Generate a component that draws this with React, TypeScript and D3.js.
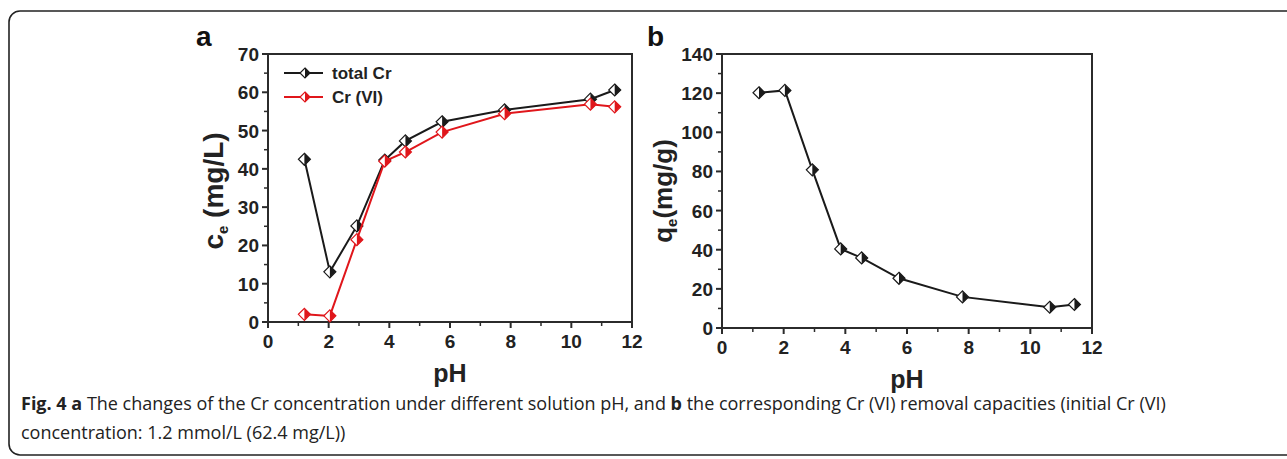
import * as d3 from 'd3'

const PH = [1.2, 2.04, 2.93, 3.85, 4.53, 5.74, 7.8, 10.63, 11.43]
const TOTAL_CR = [42.5, 13.1, 25.1, 42.3, 47.3, 52.3, 55.4, 58.2, 60.6]
const CR_VI = [2.0, 1.6, 21.5, 42.0, 44.4, 49.6, 54.4, 56.9, 56.2]
const QE = [120.2, 121.4, 80.8, 40.4, 35.8, 25.4, 15.9, 10.6, 12.0]

const X_TICKS = [0, 2, 4, 6, 8, 10, 12]
const A_Y_TICKS = [0, 10, 20, 30, 40, 50, 60, 70]
const B_Y_TICKS = [0, 20, 40, 60, 80, 100, 120, 140]

const AXIS = '#2b2b2b'
const RED = '#e0161b'
const FONT = '"Liberation Sans", Arial, sans-serif'

type Pt = { x: number; y: number }

function Marker({ cx, cy, color, r = 6 }: { cx: number; cy: number; color: string; r?: number }) {
  // half-filled diamond: left half white, right half filled
  return (
    <g>
      <path
        d={`M${cx},${cy - r} L${cx + r},${cy} L${cx},${cy + r} L${cx - r},${cy} Z`}
        fill="#fff"
        stroke={color}
        strokeWidth={1.2}
      />
      <path d={`M${cx},${cy - r} L${cx + r},${cy} L${cx},${cy + r} Z`} fill={color} />
    </g>
  )
}

function Panel({
  left,
  right,
  top,
  bottom,
  yMax,
  yTicks,
  minorY,
  series,
  letter,
  letterX,
  yLabel,
  yLabelX,
  yLabelSize,
  legend,
}: {
  left: number
  right: number
  top: number
  bottom: number
  yMax: number
  yTicks: number[]
  minorY: number
  series: { values: number[]; color: string }[]
  letter: string
  letterX: number
  yLabel: [string, string]
  yLabelX: number
  yLabelSize: number
  legend?: { label: string; color: string }[]
}) {
  const x = d3.scaleLinear().domain([0, 12]).range([left, right])
  const y = d3.scaleLinear().domain([0, yMax]).range([bottom, top])
  const line = d3
    .line<Pt>()
    .x(d => x(d.x))
    .y(d => y(d.y))
  const minorX = d3.range(1, 12, 2)
  const minorYs = d3.range(minorY, yMax, minorY * 2)
  const yMid = 191

  return (
    <g fontFamily={FONT}>
      <text x={letterX} y={46} fontSize={28} fontWeight="bold" fill="#111">
        {letter}
      </text>
      <rect x={left} y={top} width={right - left} height={bottom - top} fill="none" stroke={AXIS} strokeWidth={2} />
      {X_TICKS.map(t => (
        <g key={`xt-${t}`}>
          <line x1={x(t)} x2={x(t)} y1={bottom} y2={bottom + 6} stroke={AXIS} strokeWidth={2} />
          <text x={x(t)} y={bottom + 26} textAnchor="middle" fontSize={19} fontWeight="bold" fill="#222">
            {t}
          </text>
        </g>
      ))}
      {minorX.map(t => (
        <line key={`xm-${t}`} x1={x(t)} x2={x(t)} y1={bottom} y2={bottom + 4} stroke={AXIS} strokeWidth={1.5} />
      ))}
      {yTicks.map(t => (
        <g key={`yt-${t}`}>
          <line x1={left - 6} x2={left} y1={y(t)} y2={y(t)} stroke={AXIS} strokeWidth={2} />
          <text x={left - 9} y={y(t) + 7} textAnchor="end" fontSize={19} fontWeight="bold" fill="#222">
            {t}
          </text>
        </g>
      ))}
      {minorYs.map(t => (
        <line key={`ym-${t}`} x1={left - 4} x2={left} y1={y(t)} y2={y(t)} stroke={AXIS} strokeWidth={1.5} />
      ))}
      <text x={(left + right) / 2} y={bottom + 60} textAnchor="middle" fontSize={25} fontWeight="bold" fill="#222">
        pH
      </text>
      <text
        transform={`translate(${yLabelX},${yMid}) rotate(-90)`}
        textAnchor="middle"
        fontSize={yLabelSize}
        fontWeight="bold"
        fill="#222"
      >
        {yLabel[0]}
        <tspan fontSize={15} dy={5}>
          e
        </tspan>
        <tspan dy={-5}>{yLabel[1]}</tspan>
      </text>
      {series.map((s, i) => {
        const pts = PH.map((p, j) => ({ x: p, y: s.values[j] }))
        return (
          <g key={`s-${i}`}>
            <path d={line(pts) ?? ''} fill="none" stroke={s.color} strokeWidth={2} />
            {pts.map((p, j) => (
              <Marker key={j} cx={x(p.x)} cy={y(p.y)} color={s.color} />
            ))}
          </g>
        )
      })}
      {legend?.map((l, i) => {
        const ly = top + 19 + i * 24
        return (
          <g key={`lg-${i}`}>
            <line x1={left + 16} x2={left + 55} y1={ly} y2={ly} stroke={l.color} strokeWidth={2} />
            <Marker cx={left + 37} cy={ly} color={l.color} r={5} />
            <text x={left + 64} y={ly + 6} fontSize={17} fontWeight="bold" fill="#222">
              {l.label}
            </text>
          </g>
        )
      })}
    </g>
  )
}

export default function App() {
  return (
    <svg
      width={1287}
      height={459}
      viewBox="0 0 1287 459"
      style={{ position: 'absolute', left: 0, top: 0, background: '#fff' }}
    >
      <rect x={9} y={11} width={1300} height={444} rx={11} fill="#fff" stroke="#222" strokeWidth={1.6} />
      <Panel
        left={268}
        right={632}
        top={54}
        bottom={322}
        yMax={70}
        yTicks={A_Y_TICKS}
        minorY={5}
        letter="a"
        letterX={196}
        yLabel={['c', ' (mg/L)']}
        yLabelX={223}
        yLabelSize={28}
        series={[
          { values: TOTAL_CR, color: '#1a1a1a' },
          { values: CR_VI, color: RED },
        ]}
        legend={[
          { label: 'total Cr', color: '#1a1a1a' },
          { label: 'Cr (VI)', color: RED },
        ]}
      />
      <Panel
        left={722}
        right={1092}
        top={54}
        bottom={328}
        yMax={140}
        yTicks={B_Y_TICKS}
        minorY={10}
        letter="b"
        letterX={647}
        yLabel={['q', '(mg/g)']}
        yLabelX={672}
        yLabelSize={26}
        series={[{ values: QE, color: '#1a1a1a' }]}
      />
      <g fontFamily='"Open Sans", sans-serif' fontSize={18} fill="#222">
        <text x={21} y={410}>
          <tspan fontWeight="bold">Fig. 4 a</tspan> The changes of the Cr concentration under different solution pH, and{' '}
          <tspan fontWeight="bold">b</tspan> the corresponding Cr (VI) removal capacities (initial Cr (VI)
        </text>
        <text x={21} y={439}>
          concentration: 1.2 mmol/L (62.4 mg/L))
        </text>
      </g>
    </svg>
  )
}
